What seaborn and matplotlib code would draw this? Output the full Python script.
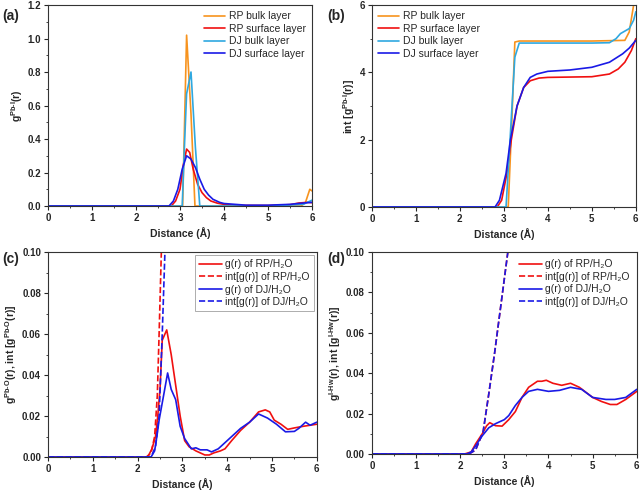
import numpy as np
import pandas as pd
import matplotlib
matplotlib.use("Agg")
import matplotlib.pyplot as plt
from matplotlib.ticker import AutoMinorLocator, FormatStrFormatter
import seaborn as sns

# ---- (a) g(r) Pb-I ----
a_rp_bulk_x = [0, 3.0, 3.06, 3.15, 3.25, 3.34, 3.5, 5.0, 5.75, 5.85, 5.95, 6.0]
a_rp_bulk_y = [0, 0, 0.0, 1.02, 0.55, 0.0, 0, 0, 0.0, 0.02, 0.10, 0.09]
a_rp_surf_x = [0, 2.8, 2.9, 3.0, 3.08, 3.15, 3.22, 3.3, 3.4, 3.5, 3.6, 3.7, 3.85, 4.0, 4.3, 5.0, 5.5, 5.7, 5.9, 6.0]
a_rp_surf_y = [0, 0, 0.03, 0.1, 0.25, 0.34, 0.32, 0.22, 0.13, 0.08, 0.05, 0.03, 0.017, 0.01, 0.004, 0.003, 0.008, 0.018, 0.022, 0.02]
a_dj_bulk_x = [0, 3.0, 3.05, 3.1, 3.15, 3.25, 3.35, 3.45, 3.6, 5.0, 5.8, 6.0]
a_dj_bulk_y = [0, 0, 0.0, 0.35, 0.67, 0.8, 0.35, 0.0, 0, 0, 0.01, 0.035]
a_dj_surf_x = [0, 2.75, 2.85, 2.95, 3.05, 3.15, 3.25, 3.35, 3.45, 3.55, 3.65, 3.75, 3.9, 4.0, 4.5, 5.0, 5.5, 5.9, 6.0]
a_dj_surf_y = [0, 0, 0.03, 0.1, 0.22, 0.3, 0.28, 0.23, 0.16, 0.1, 0.065, 0.04, 0.022, 0.015, 0.005, 0.005, 0.01, 0.02, 0.022]

# ---- (b) int g(r) Pb-I ----
b_rp_bulk_x = [0, 3.1, 3.18, 3.25, 3.35, 5.0, 5.75, 5.85, 5.95, 6.0]
b_rp_bulk_y = [0, 0, 2.5, 4.9, 4.93, 4.93, 4.95, 5.2, 6.0, 6.4]
b_rp_surf_x = [0, 2.85, 2.95, 3.07, 3.17, 3.3, 3.45, 3.6, 3.8, 4.0, 4.5, 5.0, 5.4, 5.6, 5.75, 5.9, 6.0]
b_rp_surf_y = [0, 0, 0.2, 1.0, 2.0, 3.0, 3.55, 3.75, 3.83, 3.85, 3.86, 3.87, 3.95, 4.1, 4.3, 4.65, 5.0]
b_dj_bulk_x = [0, 3.05, 3.15, 3.25, 3.35, 5.0, 5.4, 5.55, 5.65, 5.85, 5.95, 6.0]
b_dj_bulk_y = [0, 0, 2.2, 4.45, 4.87, 4.87, 4.88, 5.0, 5.15, 5.3, 5.55, 5.8]
b_dj_surf_x = [0, 2.8, 2.9, 3.05, 3.15, 3.3, 3.45, 3.6, 3.75, 4.0, 4.5, 5.0, 5.4, 5.7, 5.85, 6.0]
b_dj_surf_y = [0, 0, 0.2, 1.0, 2.0, 3.0, 3.55, 3.85, 3.95, 4.03, 4.07, 4.15, 4.3, 4.55, 4.72, 4.95]

# ---- (c) Pb-O with water ----
c_rp_x = [0, 2.2, 2.25, 2.32, 2.4, 2.45, 2.5, 2.55, 2.65, 2.75, 2.85, 2.95, 3.05, 3.15, 3.3, 3.5, 3.6, 3.7, 3.85, 3.95, 4.1, 4.3, 4.5, 4.7, 4.85, 4.95, 5.05, 5.2, 5.35, 5.5, 5.7, 5.85, 6.0]
c_rp_y = [0, 0, 0.001, 0.004, 0.01, 0.02, 0.033, 0.057, 0.062, 0.05, 0.035, 0.02, 0.008, 0.005, 0.003, 0.001, 0.001, 0.002, 0.003, 0.004, 0.008, 0.013, 0.017, 0.022, 0.023, 0.022, 0.018, 0.016, 0.0135, 0.0142, 0.015, 0.0155, 0.016]
c_dj_x = [0, 2.3, 2.38, 2.43, 2.48, 2.58, 2.67, 2.75, 2.85, 2.95, 3.05, 3.2, 3.3, 3.4, 3.55, 3.65, 3.8, 3.9, 4.1, 4.3, 4.5, 4.7, 4.9, 5.1, 5.3, 5.5, 5.6, 5.75, 5.85, 6.0]
c_dj_y = [0, 0, 0.003, 0.01, 0.018, 0.03, 0.041, 0.033, 0.028, 0.015, 0.009, 0.004, 0.0045, 0.0035, 0.0035, 0.0025, 0.004, 0.006, 0.01, 0.014, 0.017, 0.021, 0.019, 0.016, 0.0123, 0.0125, 0.014, 0.017, 0.0155, 0.017]
c_rp_int_x = [0, 2.2, 2.3, 2.38, 2.44, 2.48, 2.53, 2.6]
c_rp_int_y = [0, 0, 0.002, 0.01, 0.03, 0.06, 0.1, 0.16]
c_dj_int_x = [0, 2.3, 2.4, 2.48, 2.55, 2.61, 2.7]
c_dj_int_y = [0, 0, 0.005, 0.02, 0.06, 0.1, 0.16]

# ---- (d) I-Hw with water ----
d_rp_x = [0, 2.1, 2.25, 2.35, 2.5, 2.6, 2.67, 2.8, 2.95, 3.1, 3.25, 3.4, 3.55, 3.75, 3.85, 3.95, 4.1, 4.3, 4.5, 4.7, 5.0, 5.2, 5.4, 5.55, 5.75, 6.0]
d_rp_y = [0, 0, 0.001, 0.005, 0.01, 0.014, 0.0155, 0.014, 0.0138, 0.017, 0.021, 0.028, 0.033, 0.036, 0.036, 0.0365, 0.035, 0.034, 0.035, 0.033, 0.028, 0.026, 0.0245, 0.0245, 0.027, 0.031]
d_dj_x = [0, 2.15, 2.25, 2.35, 2.5, 2.65, 2.8, 3.0, 3.1, 3.25, 3.4, 3.55, 3.75, 4.0, 4.25, 4.5, 4.75, 5.0, 5.3, 5.5, 5.75, 6.0]
d_dj_y = [0, 0, 0.001, 0.004, 0.009, 0.013, 0.015, 0.017, 0.019, 0.024, 0.028, 0.031, 0.032, 0.031, 0.0315, 0.033, 0.032, 0.028, 0.027, 0.027, 0.028, 0.032]
d_int_x = [0, 2.2, 2.35, 2.52, 2.65, 2.78, 2.9, 3.08, 3.2]
d_rp_int_y = [0, 0, 0.002, 0.011, 0.03, 0.05, 0.07, 0.1, 0.12]
d_dj_int_y = [0, 0, 0.002, 0.011, 0.03, 0.05, 0.07, 0.1, 0.12]

ORANGE = "#F7931E"
RED = "#F01010"
LBLUE = "#2FA8E0"
BLUE = "#1A1AE6"

sns.set_style("ticks")
plt.rcParams["font.family"] = ["Liberation Sans", "DejaVu Sans"]
plt.rcParams["mathtext.fontset"] = "custom"
plt.rcParams["mathtext.rm"] = "Liberation Sans:bold"
plt.rcParams["mathtext.bf"] = "Liberation Sans:bold"
plt.rcParams["mathtext.it"] = "Liberation Sans:italic"

fig = plt.figure(figsize=(6.4, 4.91), dpi=100)
ax_a = fig.add_axes([0.075, 0.5804, 0.4125, 0.4094])
ax_b = fig.add_axes([0.581, 0.5784, 0.4125, 0.4114])
ax_c = fig.add_axes([0.075, 0.0692, 0.42, 0.4175])
ax_d = fig.add_axes([0.581, 0.0754, 0.414, 0.4114])


def draw(ax, x, y, color, label, ls="-"):
    df = pd.DataFrame({"x": x, "y": y})
    sns.lineplot(data=df, x="x", y="y", ax=ax, color=color, label=label,
                 linestyle=ls, linewidth=1.2, estimator=None, sort=False)


draw(ax_a, a_rp_bulk_x, a_rp_bulk_y, ORANGE, "RP bulk layer")
draw(ax_a, a_rp_surf_x, a_rp_surf_y, RED, "RP surface layer")
draw(ax_a, a_dj_bulk_x, a_dj_bulk_y, LBLUE, "DJ bulk layer")
draw(ax_a, a_dj_surf_x, a_dj_surf_y, BLUE, "DJ surface layer")

draw(ax_b, b_rp_bulk_x, b_rp_bulk_y, ORANGE, "RP bulk layer")
draw(ax_b, b_rp_surf_x, b_rp_surf_y, RED, "RP surface layer")
draw(ax_b, b_dj_bulk_x, b_dj_bulk_y, LBLUE, "DJ bulk layer")
draw(ax_b, b_dj_surf_x, b_dj_surf_y, BLUE, "DJ surface layer")

# legend text is regular weight, subscript 2 as plain text
h2o = "H\u2082O"
draw(ax_c, c_rp_x, c_rp_y, RED, "g(r) of RP/" + h2o)
draw(ax_c, c_rp_int_x, c_rp_int_y, RED, "int[g(r)] of RP/" + h2o, "--")
draw(ax_c, c_dj_x, c_dj_y, BLUE, "g(r) of DJ/" + h2o)
draw(ax_c, c_dj_int_x, c_dj_int_y, BLUE, "int[g(r)] of DJ/" + h2o, "--")

draw(ax_d, d_rp_x, d_rp_y, RED, "g(r) of RP/" + h2o)
draw(ax_d, d_int_x, d_rp_int_y, RED, "int[g(r)] of RP/" + h2o, "--")
draw(ax_d, d_dj_x, d_dj_y, BLUE, "g(r) of DJ/" + h2o)
draw(ax_d, d_int_x, d_dj_int_y, BLUE, "int[g(r)] of DJ/" + h2o, "--")

ylabels = {
    ax_a: r"g$^{\mathrm{Pb\text{-}I}}$(r)",
    ax_b: r"int [g$^{\mathrm{Pb\text{-}I}}$(r)]",
    ax_c: r"g$^{\mathrm{Pb\text{-}O}}$(r), int [g$^{\mathrm{Pb\text{-}O}}$(r)]",
    ax_d: r"g$^{\mathrm{I\text{-}Hw}}$(r), int [g$^{\mathrm{I\text{-}Hw}}$(r)]",
}
ylims = {ax_a: (0, 1.2), ax_b: (0, 6), ax_c: (0, 0.1), ax_d: (0, 0.1)}
yticks = {ax_a: np.arange(0, 1.21, 0.2), ax_b: [0, 2, 4, 6],
          ax_c: np.arange(0, 0.101, 0.02), ax_d: np.arange(0, 0.101, 0.02)}
yfmt = {ax_a: "%.1f", ax_b: "%d", ax_c: "%.2f", ax_d: "%.2f"}

for ax in (ax_a, ax_b, ax_c, ax_d):
    ax.set_xlim(0, 6)
    ax.set_ylim(*ylims[ax])
    ax.set_xticks(range(7))
    ax.set_yticks(yticks[ax])
    ax.yaxis.set_major_formatter(FormatStrFormatter(yfmt[ax]))
    ax.xaxis.set_minor_locator(AutoMinorLocator(2))
    ax.yaxis.set_minor_locator(AutoMinorLocator(2))
    ax.tick_params(which="major", direction="out", length=3, width=0.8, labelsize=7, pad=2)
    ax.tick_params(which="minor", direction="out", length=1.5, width=0.6)
    for lab in ax.get_xticklabels() + ax.get_yticklabels():
        lab.set_fontweight("bold")
    for sp in ax.spines.values():
        sp.set_linewidth(0.8)
        sp.set_color("#333333")
    ax.set_xlabel("Distance (Å)", fontsize=7.5, fontweight="bold", labelpad=3)
    ax.set_ylabel(ylabels[ax], fontsize=7.5, fontweight="bold", labelpad=2)

ax_a.legend(loc="upper right", frameon=False, fontsize=7.5, handlelength=2.0,
            handletextpad=0.4, labelspacing=0.25, borderaxespad=0.2)
ax_b.legend(loc="upper left", frameon=False, fontsize=7.5, handlelength=2.0,
            handletextpad=0.4, labelspacing=0.25, borderaxespad=0.2)
leg_c = ax_c.legend(loc="upper right", frameon=True, fontsize=7.5, handlelength=2.2,
                    handletextpad=0.3, labelspacing=0.25, borderaxespad=0.3,
                    fancybox=False, edgecolor="#888888")
leg_c.get_frame().set_linewidth(0.6)
ax_d.legend(loc="upper right", frameon=False, fontsize=7.5, handlelength=2.2,
            handletextpad=0.3, labelspacing=0.25, borderaxespad=0.3)

fig.text(0.003, 0.96, "(a)", fontsize=10, fontweight="bold")
fig.text(0.512, 0.96, "(b)", fontsize=10, fontweight="bold")
fig.text(0.003, 0.465, "(c)", fontsize=10, fontweight="bold")
fig.text(0.512, 0.465, "(d)", fontsize=10, fontweight="bold")

fig.savefig("out.png", dpi=100)
